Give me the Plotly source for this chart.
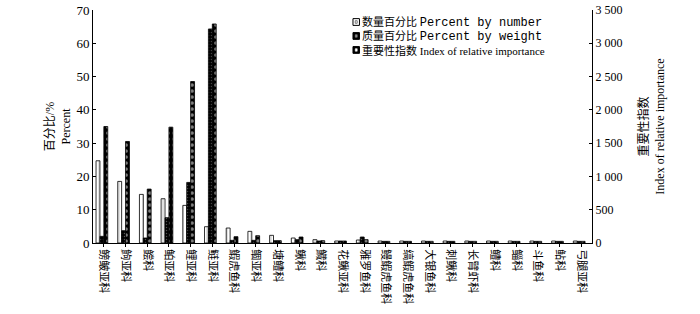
import plotly.graph_objects as go

families = ["鳑鲏亚科", "鮈亚科", "鲿科", "鲌亚科", "鲤亚科", "鲢亚科", "鰕虎鱼科", "鲴亚科",
            "塘鳢科", "鳅科", "鱵科", "花鳅亚科", "雅罗鱼科", "鳗鰕虎鱼科", "缟鰕虎鱼科",
            "大银鱼科", "刺鳅科", "长臂虾科", "鳢科", "鲻科", "斗鱼科", "鲇科", "弓腿亚科"]
pct_number = [24.7, 18.5, 14.6, 13.3, 11.3, 4.9, 4.5, 3.5, 2.3, 1.5, 1.0, 0.6, 0.9,
              0.6, 0.6, 0.6, 0.6, 0.6, 0.6, 0.6, 0.6, 0.6, 0.6]
pct_weight = [2.0, 3.7, 1.5, 7.6, 18.2, 64.3, 0.8, 0.8, 0.7, 1.0, 0.6, 0.6, 1.8,
              0.5, 0.5, 0.5, 0.5, 0.5, 0.5, 0.5, 0.5, 0.5, 0.5]
iri = [1750, 1525, 810, 1740, 2425, 3290, 95, 110, 35, 90, 35, 30, 50,
       25, 25, 25, 25, 25, 25, 25, 25, 25, 25]
legend_cn = ["数量百分比", "质量百分比", "重要性指数"]
legend_en = ["Percent by number", "Percent by weight", "Index of relative importance"]

serif = "Liberation Serif, Noto Sans CJK SC"
mono = "Liberation Mono"
x = list(range(len(families)))

fig = go.Figure()
fig.add_trace(go.Bar(
    x=x, y=pct_number, width=0.18, offset=-0.36, name=legend_en[0],
    marker=dict(color="white", line=dict(color="black", width=0.8),
                pattern=dict(shape="|", fgcolor="#888", bgcolor="white", size=4, solidity=0.25)),
))
fig.add_trace(go.Bar(
    x=x, y=pct_weight, width=0.18, offset=-0.18, name=legend_en[1],
    marker=dict(color="black", line=dict(color="black", width=0.8),
                pattern=dict(shape=".", fgcolor="#aaa", bgcolor="black", size=3, solidity=0.2)),
))
fig.add_trace(go.Bar(
    x=x, y=iri, width=0.18, offset=0.0, yaxis="y2", name=legend_en[2],
    marker=dict(color="black", line=dict(color="black", width=0.8),
                pattern=dict(shape=".", fgcolor="white", bgcolor="black", size=6, solidity=0.3)),
))

# compact legend: one multi-line text block plus small key squares
lines = []
for i in range(3):
    if i < 2:
        en = '<span style="font-family:Liberation Mono;font-size:12px">' + legend_en[i] + "</span>"
    else:
        en = legend_en[i]
    lines.append(legend_cn[i] + "\u00a0" + en)
ann = [dict(xref="paper", yref="paper", x=0.535, y=0.983, xanchor="left", yanchor="top",
            showarrow=False, align="left", text="<br>".join(lines),
            font=dict(family=serif, size=11, color="black"))]

shapes = []
ys = [0.948, 0.888, 0.828]
for i in range(3):
    shapes.append(dict(type="rect", xref="paper", yref="paper",
                       x0=0.521, x1=0.534, y0=ys[i] - 0.014, y1=ys[i] + 0.015,
                       fillcolor="white" if i == 0 else "black",
                       line=dict(color="black", width=1)))
    inner_fill = ["white", "#888", "white"][i]
    inner_line = ["black", "#888", "white"][i]
    shapes.append(dict(type="rect", xref="paper", yref="paper",
                       x0=0.5255, x1=0.5295, y0=ys[i] - 0.005, y1=ys[i] + 0.006,
                       fillcolor=inner_fill, line=dict(color=inner_line, width=0.5)))

fig.update_layout(
    width=700, height=314,
    margin=dict(l=93, r=108, t=10, b=71),
    paper_bgcolor="white", plot_bgcolor="white",
    font=dict(family=serif, size=12, color="black"),
    showlegend=False,
    annotations=ann, shapes=shapes,
    xaxis=dict(tickmode="array", tickvals=x, ticktext=families, tickangle=90,
               range=[-0.5, len(families) - 0.5], showline=True, linecolor="black",
               linewidth=1, ticks="outside", ticklen=3, tickcolor="black", automargin=False,
               showgrid=False, zeroline=False, tickfont=dict(size=11, family=serif)),
    yaxis=dict(range=[0, 70], dtick=10, showline=True, linecolor="black", linewidth=1,
               ticks="inside", ticklen=3, tickcolor="black", showgrid=False, zeroline=False,
               automargin=False,
               title=dict(text="百分比/%<br>Percent", font=dict(size=12, family=serif), standoff=3),
               tickfont=dict(size=13, family=serif)),
    yaxis2=dict(range=[0, 3500], tickvals=[0, 500, 1000, 1500, 2000, 2500, 3000, 3500],
                ticktext=["0", "500", "1 000", "1 500", "2 000", "2 500", "3 000", "3 500"],
                overlaying="y", side="right", showline=True, linecolor="black", linewidth=1,
                ticks="inside", ticklen=3, tickcolor="black", showgrid=False, zeroline=False,
                automargin=False,
                title=dict(text="重要性指数<br>Index of relative importance",
                           font=dict(size=12, family=serif), standoff=18),
                tickfont=dict(size=12, family=serif)),
)

fig.write_html("out.html", config={"displayModeBar": False},
               post_script="document.body.style.margin='0';document.body.style.padding='0';")
